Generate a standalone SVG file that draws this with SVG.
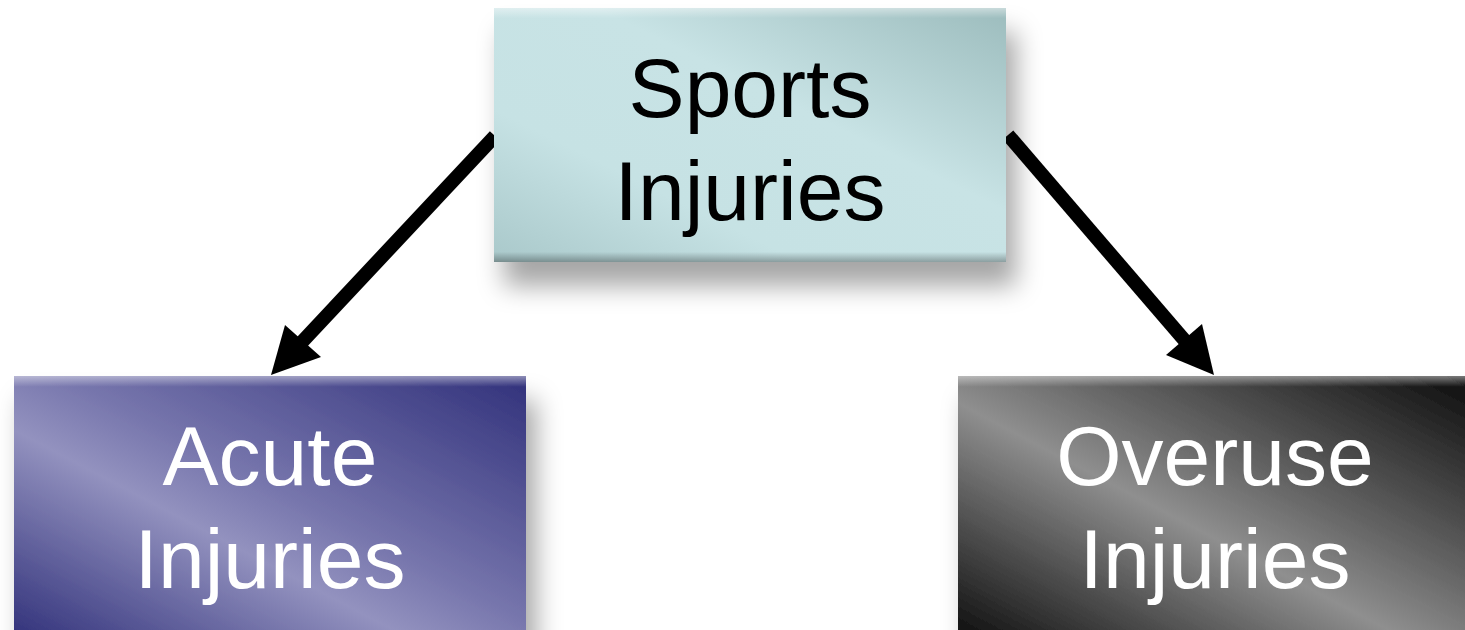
<svg xmlns="http://www.w3.org/2000/svg" width="1465" height="630" viewBox="0 0 1465 630">
<style>
.lbl{font-family:"Liberation Sans",Arial,sans-serif;font-size:84px;text-anchor:middle}
.dark{fill:#000}
.light{fill:#fff}
.conn{stroke:#000;stroke-width:14;fill:none;stroke-linecap:butt}
.head{fill:#000}
</style>
<defs>
<filter id="sh" x="-10%" y="-10%" width="130%" height="150%">
<feDropShadow dx="10" dy="24" stdDeviation="13" flood-color="#000" flood-opacity="0.35"/>
</filter>
<linearGradient id="gTeal" x1="0" y1="1" x2="1" y2="0">
<stop offset="0" stop-color="#a9c8ca"/>
<stop offset="0.3" stop-color="#c6e2e4"/>
<stop offset="0.6" stop-color="#c8e3e5"/>
<stop offset="1" stop-color="#9cbcbd"/>
</linearGradient>
<linearGradient id="gBlue" x1="0" y1="1" x2="1" y2="0">
<stop offset="0" stop-color="#2e2e78"/>
<stop offset="0.4" stop-color="#9392bf"/>
<stop offset="0.55" stop-color="#7675ac"/>
<stop offset="1" stop-color="#31317b"/>
</linearGradient>
<linearGradient id="gGray" x1="0" y1="1" x2="1" y2="0">
<stop offset="0" stop-color="#0a0a0a"/>
<stop offset="0.45" stop-color="#8f8f8f"/>
<stop offset="0.6" stop-color="#6a6a6a"/>
<stop offset="1" stop-color="#0c0c0c"/>
</linearGradient>
<linearGradient id="bev" x1="0" y1="0" x2="0" y2="1">
<stop offset="0" stop-color="#fff" stop-opacity="0.45"/>
<stop offset="0.04" stop-color="#fff" stop-opacity="0"/>
<stop offset="0.96" stop-color="#000" stop-opacity="0"/>
<stop offset="1" stop-color="#000" stop-opacity="0.3"/>
</linearGradient>
</defs>
<g id="connectors">
<line class="conn" x1="495" y1="136" x2="301" y2="343"/>
<polygon class="head" points="271,375 285,325 321,357"/>
<line class="conn" x1="1008" y1="135" x2="1186" y2="342"/>
<polygon class="head" points="1214,375 1202,324 1166,355"/>
</g>
<g id="node-sports">
<rect x="494" y="8" width="512" height="254" fill="url(#gTeal)" filter="url(#sh)"/>
<rect x="494" y="8" width="512" height="254" fill="url(#bev)"/>
<text class="lbl dark" x="750" y="117">Sports</text>
<text class="lbl dark" x="750" y="220">Injuries</text>
</g>
<g id="node-acute">
<rect x="14" y="376" width="512" height="270" fill="url(#gBlue)" filter="url(#sh)"/>
<rect x="14" y="376" width="512" height="270" fill="url(#bev)"/>
<text class="lbl light" x="270" y="485">Acute</text>
<text class="lbl light" x="270" y="588">Injuries</text>
</g>
<g id="node-overuse">
<rect x="958" y="376" width="512" height="270" fill="url(#gGray)" filter="url(#sh)"/>
<rect x="958" y="376" width="512" height="270" fill="url(#bev)"/>
<text class="lbl light" x="1215" y="485">Overuse</text>
<text class="lbl light" x="1215" y="588">Injuries</text>
</g>
</svg>
